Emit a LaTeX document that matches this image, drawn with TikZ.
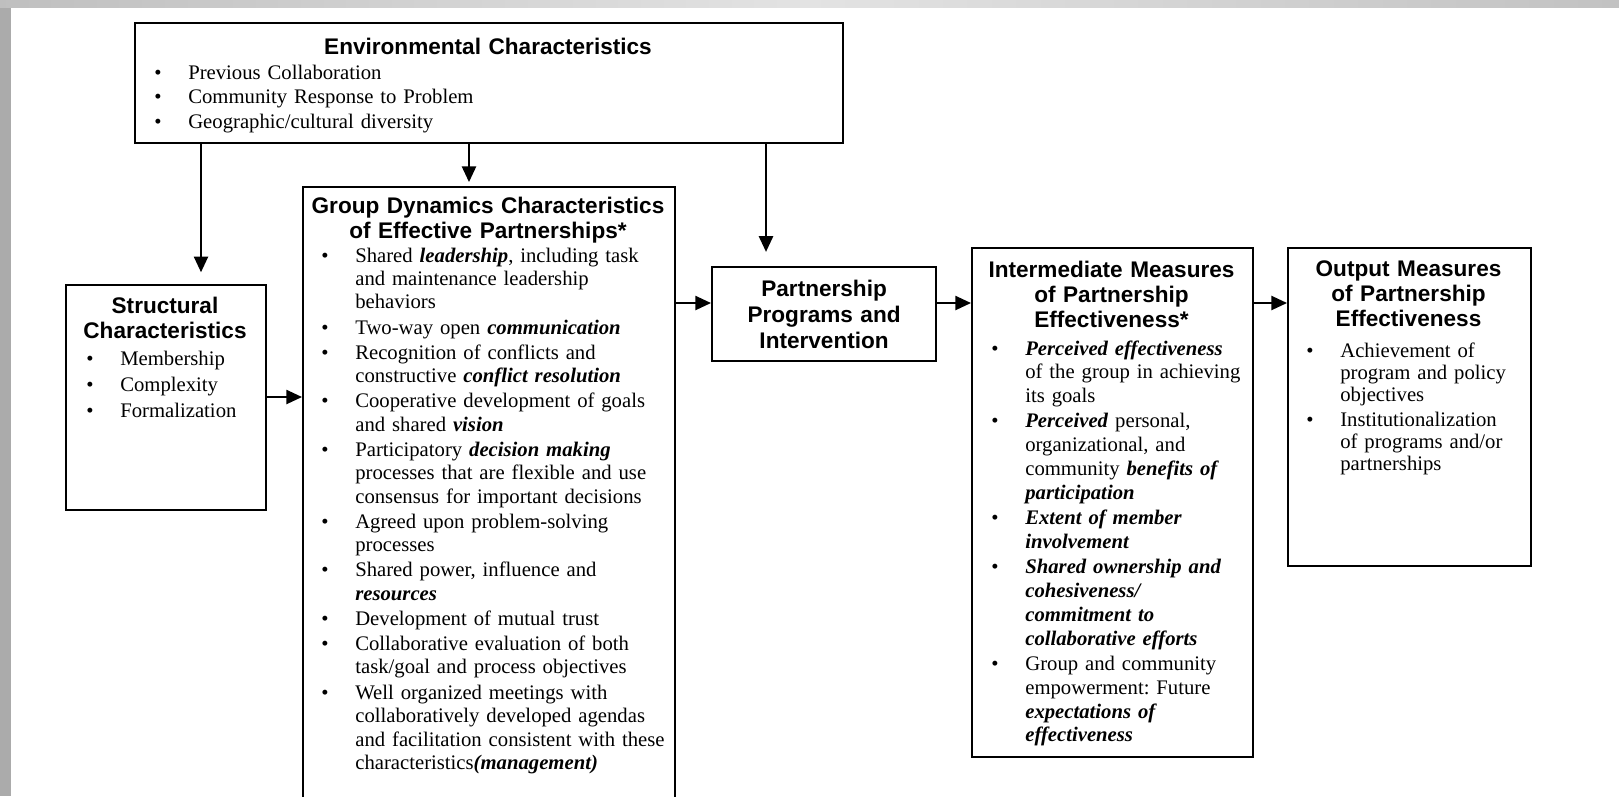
\documentclass[tikz,border=0pt]{standalone}
\usepackage{fontspec}
\setmainfont{Liberation Serif}
\newfontfamily\headfont{Liberation Sans}
\usetikzlibrary{arrows.meta}
\frenchspacing

\newlength{\pxu}
\setlength{\pxu}{0.6376pt}
\newcommand{\bi}[1]{\textbf{\textit{#1}}}
\newcommand{\itm}{\leavevmode\llap{\textbullet\hspace{17pt}}}

\begin{document}
\begin{tikzpicture}[x=0.6376pt, y=-0.6376pt,
    box/.style={draw, line width=1.4pt, anchor=north west, inner sep=0pt},
    dims/.style 2 args={minimum width=#1*0.6376pt, minimum height=#2*0.6376pt},
    head/.style={anchor=base, inner sep=0pt, align=center, font=\headfont\bfseries\fontsize{14.4}{15.94}\selectfont},
    list/.style={anchor=base west, inner sep=0pt, align=left},
    arr/.style={line width=1.3pt, -{Triangle[length=10pt,width=9pt]}}]
        % page and grey frame
        \useasboundingbox (0,0) rectangle (1619,796);
        \clip (0,0) rectangle (1619,796);
        \fill[white] (0,0) rectangle (1619,796);
        \fill[gray!66] (0,0) rectangle (11,796);
        \shade[left color=gray!50, right color=gray!48, middle color=gray!22] (0,0) rectangle (1619,7);

        % boxes
        \node[box, dims={708}{120}] (env) at (134,22) {};
        \node[box, dims={200}{225}] (struct) at (65,284) {};
        \node[box, dims={372}{640}] (group) at (302,186) {};
        \node[box, dims={224}{94}, text width=210\pxu, align=center,
              font=\headfont\bfseries\fontsize{14.4}{16.58}\selectfont] (part) at (711,266)
              {Partnership\\Programs and\\Intervention};
        \node[box, dims={281}{509}] (inter) at (971,247) {};
        \node[box, dims={243}{318}] (outp) at (1287,247) {};

        % environmental characteristics
        \node[head, text width=500\pxu] (envhead) at (488,54) {Environmental Characteristics};
        \node[list, text width=400\pxu, font=\fontsize{13.2}{15.62}\selectfont] (envlist) at (188,79) {%
            \itm Previous Collaboration\\
            \itm Community Response to Problem\\
            \itm Geographic/cultural diversity};

        % structural characteristics
        \node[head, text width=190\pxu] (structhead) at (165,313) {Structural\\Characteristics};
        \node[list, text width=140\pxu, font=\fontsize{13.2}{16.58}\selectfont] (structlist) at (120,365) {%
            \itm Membership\\
            \itm Complexity\\
            \itm Formalization};

        % group dynamics
        \node[head, text width=360\pxu] (grouphead) at (488,213) {Group Dynamics Characteristics\\of Effective Partnerships*};
        \node[list, text width=330\pxu, font=\fontsize{13.2}{14.98}\selectfont] (grouplist) at (355,262) {%
            \itm Shared \bi{leadership}, including task\\
            and maintenance leadership\\
            behaviors\\[1pt]
            \itm Two-way open \bi{communication}\\[1pt]
            \itm Recognition of conflicts and\\
            constructive \bi{conflict resolution}\\[1pt]
            \itm Cooperative development of goals\\
            and shared \bi{vision}\\[1pt]
            \itm Participatory \bi{decision making}\\
            processes that are flexible and use\\
            consensus for important decisions\\[1pt]
            \itm Agreed upon problem-solving\\
            processes\\[1pt]
            \itm Shared power, influence and\\
            \bi{resources}\\[1pt]
            \itm Development of mutual trust\\[1pt]
            \itm Collaborative evaluation of both\\
            task/goal and process objectives\\[1pt]
            \itm Well organized meetings with\\
            collaboratively developed agendas\\
            and facilitation consistent with these\\
            characteristics\bi{(management)}};

        % intermediate measures
        \node[head, text width=270\pxu] (interhead) at (1111.5,277) {Intermediate Measures\\of Partnership\\Effectiveness*};
        \node[list, text width=260\pxu, font=\fontsize{13.2}{15.17}\selectfont] (interlist) at (1025,355) {%
            \itm \bi{Perceived effectiveness}\\
            of the group in achieving\\
            its goals\\[1pt]
            \itm \bi{Perceived} personal,\\
            organizational, and\\
            community \bi{benefits of}\\
            \bi{participation}\\[1pt]
            \itm \bi{Extent of member}\\
            \bi{involvement}\\[1pt]
            \itm \bi{Shared ownership and}\\
            \bi{cohesiveness/}\\
            \bi{commitment to}\\
            \bi{collaborative efforts}\\[1pt]
            \itm Group and community\\
            empowerment: Future\\
            \bi{expectations of}\\
            \bi{effectiveness}};

        % output measures
        \node[head, text width=235\pxu] (outphead) at (1408.5,276) {Output Measures\\of Partnership\\Effectiveness};
        \node[list, text width=220\pxu, font=\fontsize{13.2}{14.03}\selectfont] (outplist) at (1340,357) {%
            \itm Achievement of\\
            program and policy\\
            objectives\\[2pt]
            \itm Institutionalization\\
            of programs and/or\\
            partnerships};

        % arrows
        \draw[arr, shorten >=7.5pt] (env.south -| 201,0) -- (struct.north -| 201,0);
        \draw[arr, shorten >=2.5pt] (env.south -| 469,0) -- (group.north -| 469,0);
        \draw[arr, shorten >=9pt] (env.south -| 766,0) -- (part.north -| 766,0);
        \draw[arr] (struct.east |- 0,397) -- (group.west |- 0,397);
        \draw[arr] (group.east |- 0,303) -- (part.west |- 0,303);
        \draw[arr] (part.east |- 0,303) -- (inter.west |- 0,303);
        \draw[arr] (inter.east |- 0,303) -- (outp.west |- 0,303);
\end{tikzpicture}
\end{document}
